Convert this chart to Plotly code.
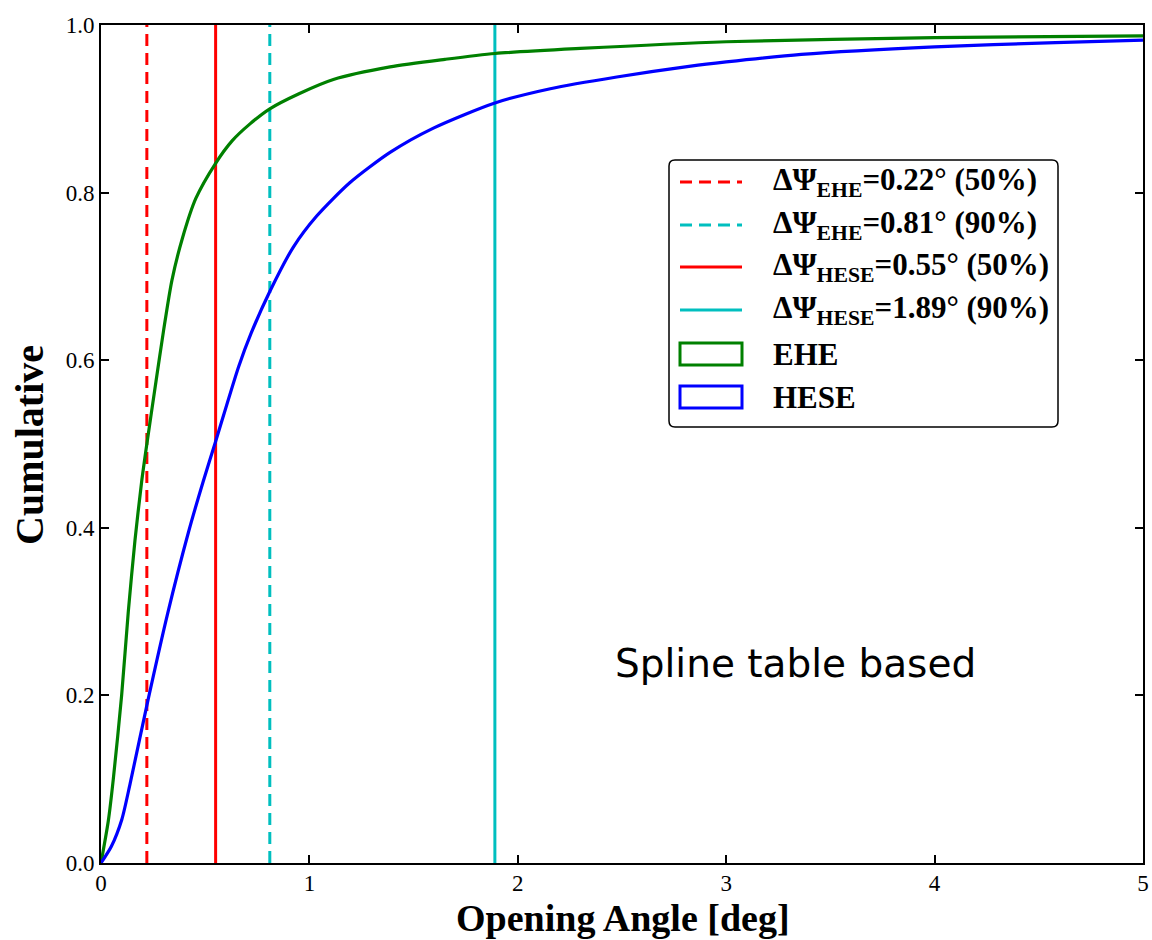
import plotly.graph_objects as go

# Cumulative opening-angle distributions
ehe_x = [0.0, 0.035, 0.059, 0.099, 0.131, 0.163, 0.195, 0.22, 0.264, 0.30, 0.34,
         0.39, 0.455, 0.55, 0.63, 0.715, 0.81, 0.95, 1.115, 1.387, 1.65, 1.891,
         2.3, 3.0, 4.0, 5.0]
ehe_y = [0.0, 0.05, 0.10, 0.20, 0.30, 0.385, 0.455, 0.50, 0.575, 0.635, 0.695,
         0.745, 0.793, 0.835, 0.862, 0.882, 0.90, 0.918, 0.935, 0.950, 0.959, 0.966,
         0.972, 0.980, 0.985, 0.987]

hese_x = [0.0, 0.05, 0.10, 0.14, 0.226, 0.32, 0.42, 0.49, 0.55, 0.66, 0.72,
          0.81, 0.923, 1.035, 1.195, 1.387, 1.595, 1.89, 2.156, 2.475,
          2.83, 3.0, 3.36, 4.0, 4.58, 5.0]
hese_y = [0.0, 0.02, 0.052, 0.095, 0.195, 0.298, 0.395, 0.455, 0.503, 0.592, 0.632,
          0.682, 0.735, 0.772, 0.812, 0.848, 0.877, 0.907, 0.924, 0.938,
          0.951, 0.956, 0.965, 0.974, 0.979, 0.982]

# Containment angles (deg)
marker_names = ["EHE", "EHE", "HESE", "HESE"]
marker_values = [0.22, 0.81, 0.55, 1.89]
marker_levels = ["50%", "90%", "50%", "90%"]
marker_colors = ["#ff0000", "#00bfbf", "#ff0000", "#00bfbf"]
marker_dashed = [True, True, False, False]

x_ticks = [0, 1, 2, 3, 4, 5]
y_ticks = [0.0, 0.2, 0.4, 0.6, 0.8, 1.0]

W, H = 1152, 940
L, R, T, B = 101, 9, 25, 77
XMIN, XMAX, YMIN, YMAX = 0.0, 5.0, 0.0, 1.0
PW, PH = W - L - R, H - T - B

def px2x(px):
    return XMIN + (px - L) / PW * (XMAX - XMIN)

def py2y(py):
    return YMIN + (H - B - py) / PH * (YMAX - YMIN)

SERIF = "Liberation Serif, DejaVu Serif, serif"
DASH = "12px,7px"

fig = go.Figure()

for v, c, d in zip(marker_values, marker_colors, marker_dashed):
    fig.add_trace(go.Scatter(
        x=[v, v], y=[YMIN, YMAX], mode="lines",
        line=dict(color=c, width=3, dash=DASH if d else "solid"),
        showlegend=False, hoverinfo="skip"))

fig.add_trace(go.Scatter(x=ehe_x, y=ehe_y, mode="lines", name="EHE",
                         line=dict(color="#008000", width=3.2, shape="spline", smoothing=0.7),
                         showlegend=False))
fig.add_trace(go.Scatter(x=hese_x, y=hese_y, mode="lines", name="HESE",
                         line=dict(color="#0000ff", width=3.2, shape="spline", smoothing=0.7),
                         showlegend=False))

shapes = []
annotations = []

# Legend frame with rounded corners
bx0, bx1, by0, by1 = 669, 1058, 160, 427
rr = 6
rx, ry = px2x(bx0 + rr) - px2x(bx0), py2y(by0) - py2y(by0 + rr)
x0, x1, y0, y1 = px2x(bx0), px2x(bx1), py2y(by1), py2y(by0)
frame = (f"M {x0+rx},{y1} L {x1-rx},{y1} Q {x1},{y1} {x1},{y1-ry} "
         f"L {x1},{y0+ry} Q {x1},{y0} {x1-rx},{y0} L {x0+rx},{y0} "
         f"Q {x0},{y0} {x0},{y0+ry} L {x0},{y1-ry} Q {x0},{y1} {x0+rx},{y1} Z")
shapes.append(dict(type="path", path=frame, xref="x", yref="y",
                   line=dict(color="black", width=1.5), fillcolor="white", layer="above"))

row_y = [182, 225, 267, 310, 354, 397]
hx0, hx1, tx = 680, 742, 771
LEG_SIZE = 31

for i, (n, v, lv, c, d) in enumerate(zip(marker_names, marker_values, marker_levels,
                                         marker_colors, marker_dashed)):
    yy = py2y(row_y[i])
    shapes.append(dict(type="line", xref="x", yref="y", x0=px2x(hx0), x1=px2x(hx1),
                       y0=yy, y1=yy, layer="above",
                       line=dict(color=c, width=3, dash=DASH if d else "solid")))
    annotations.append(dict(
        x=px2x(tx), y=yy, xref="x", yref="y", xanchor="left", yanchor="middle",
        showarrow=False,
        text=f"<b>ΔΨ<sub>{n}</sub>={v:.2f}° ({lv})</b>",
        font=dict(family=SERIF, size=LEG_SIZE, color="black")))

for j, (n, c) in enumerate([("EHE", "#008000"), ("HESE", "#0000ff")]):
    yc = row_y[4 + j]
    shapes.append(dict(type="rect", xref="x", yref="y", x0=px2x(hx0), x1=px2x(hx1),
                       y0=py2y(yc + 11), y1=py2y(yc - 11), layer="above",
                       line=dict(color=c, width=3), fillcolor="rgba(0,0,0,0)"))
    annotations.append(dict(
        x=px2x(tx), y=py2y(yc), xref="x", yref="y", xanchor="left", yanchor="middle",
        showarrow=False, text=f"<b>{n}</b>",
        font=dict(family=SERIF, size=LEG_SIZE, color="black")))

# Method note
annotations.append(dict(x=px2x(795), y=py2y(663), xref="x", yref="y",
                        xanchor="center", yanchor="middle", showarrow=False,
                        text="Spline table based",
                        font=dict(family="DejaVu Sans, sans-serif", size=39, color="black")))

# Axis titles
annotations.append(dict(x=(29 - L) / PW, y=(H - B - 445) / PH, xref="paper", yref="paper",
                        xanchor="center", yanchor="middle", showarrow=False, textangle=-90,
                        text="<b>Cumulative</b>",
                        font=dict(family=SERIF, size=40, color="black")))
annotations.append(dict(x=(623 - L) / PW, y=(H - B - 918) / PH, xref="paper", yref="paper",
                        xanchor="center", yanchor="middle", showarrow=False,
                        text="<b>Opening Angle [deg]</b>",
                        font=dict(family=SERIF, size=38, color="black")))

axis_common = dict(showline=True, linecolor="black", linewidth=2, mirror="allticks",
                   ticks="inside", ticklen=8, tickwidth=1.5, tickcolor="black",
                   showgrid=False, zeroline=False, automargin=False,
                   tickfont=dict(family=SERIF, size=23, color="black"))

fig.update_layout(
    width=W, height=H,
    margin=dict(l=L, r=R, t=T, b=B),
    paper_bgcolor="white", plot_bgcolor="white",
    xaxis=dict(range=[XMIN, XMAX], tickvals=x_ticks, ticktext=[str(t) for t in x_ticks],
               ticklabelstandoff=-2, **axis_common),
    yaxis=dict(range=[YMIN, YMAX], tickvals=y_ticks, ticktext=[f"{t:.1f}" for t in y_ticks],
               **axis_common),
    shapes=shapes, annotations=annotations, showlegend=False,
)

fig.write_html("out.html")
